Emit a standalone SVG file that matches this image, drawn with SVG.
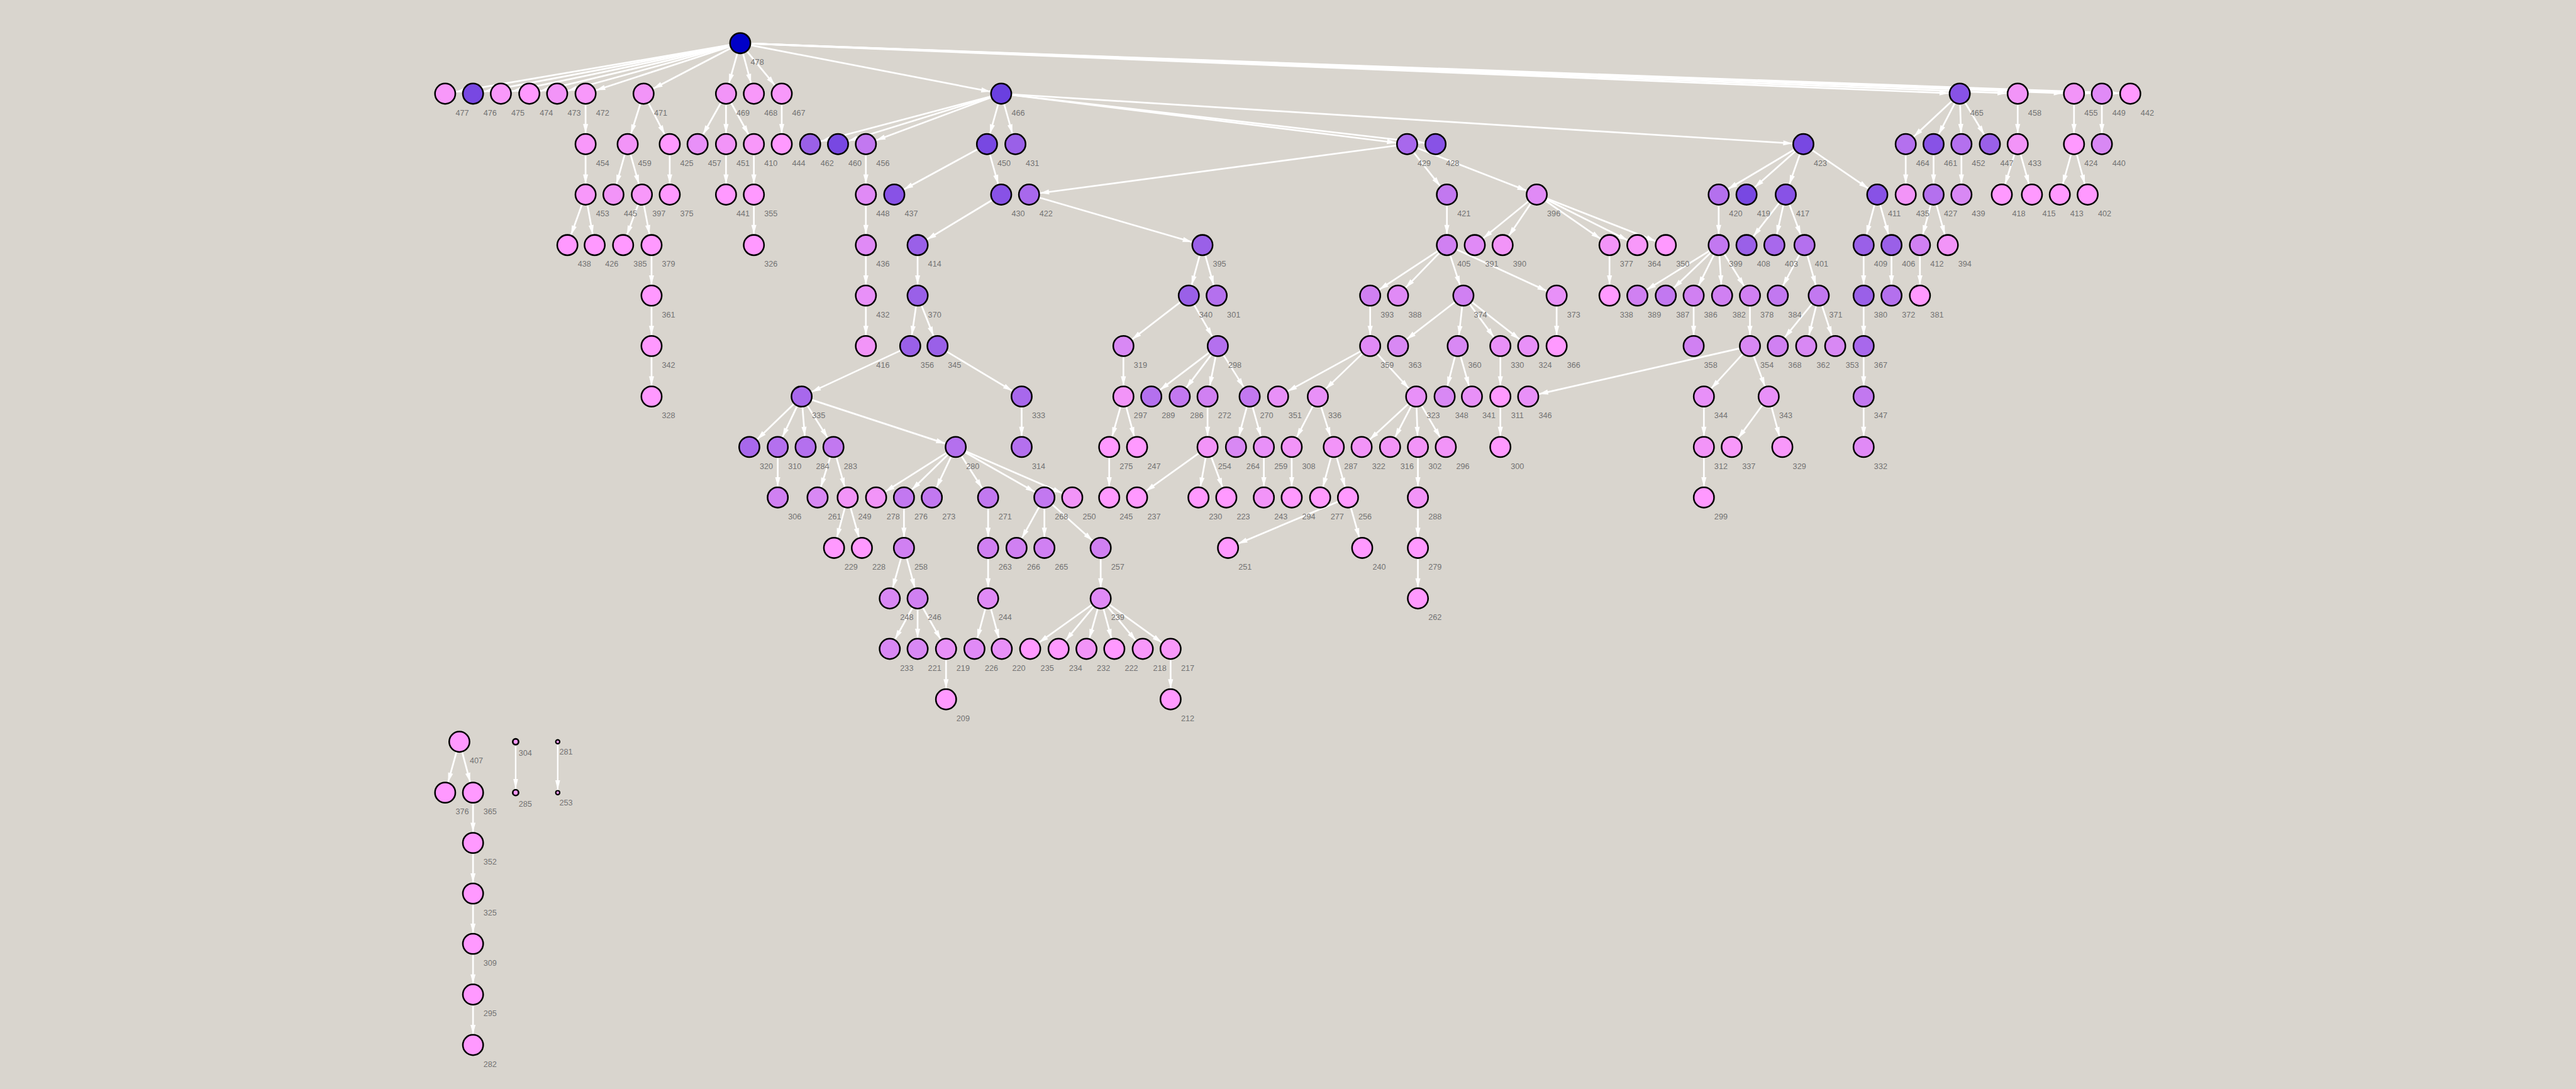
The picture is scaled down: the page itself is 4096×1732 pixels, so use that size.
<svg xmlns="http://www.w3.org/2000/svg" width="4096" height="1732" viewBox="0 0 4096 1732">
<style>
.e line{stroke:#fff;stroke-width:3;marker-end:url(#a)}
.n circle{stroke:#000;stroke-width:2.8}
.n text{font-family:"Liberation Sans",Arial,sans-serif;font-size:14px;fill:#727272;text-anchor:middle}
.c0{fill:#0000c8}.c1{fill:#6a40e0}.c2{fill:#7848e2}.c3{fill:#8852e6}.c4{fill:#9a60e8}.c5{fill:#a868ec}.c6{fill:#b470ee}.c7{fill:#c278f0}.c8{fill:#d080f2}.c9{fill:#d888f4}.c10{fill:#e08af6}.c11{fill:#e890f8}.c12{fill:#f294f8}.c13{fill:#f898fa}.c14{fill:#ff99ff}
</style>
<defs>
<marker id="a" markerUnits="userSpaceOnUse" orient="auto" refX="19.5" refY="0" overflow="visible" markerWidth="20" markerHeight="10"><path d="M0,0 L-16,-4.5 L-16,4.5 Z" fill="#fff"/></marker>
<marker id="a2" markerUnits="userSpaceOnUse" orient="auto" refX="6.8" refY="0" overflow="visible" markerWidth="20" markerHeight="10"><path d="M0,0 L-17,-4.2 L-17,4.2 Z" fill="#fff"/></marker>
<marker id="a3" markerUnits="userSpaceOnUse" orient="auto" refX="4.8" refY="0" overflow="visible" markerWidth="20" markerHeight="10"><path d="M0,0 L-17,-4.2 L-17,4.2 Z" fill="#fff"/></marker>
</defs>
<rect width="4096" height="1732" fill="#d9d5ce"/>
<g transform="scale(0.904)">
<g id="edges" class="e">
<line x1="1302" y1="76" x2="783" y2="164.8"/><line x1="1302" y1="76" x2="832" y2="164.8"/><line x1="1302" y1="76" x2="881" y2="164.8"/><line x1="1302" y1="76" x2="931" y2="164.8"/><line x1="1302" y1="76" x2="980" y2="164.8"/><line x1="1302" y1="76" x2="1030" y2="164.8"/><line x1="1302" y1="76" x2="1132" y2="164.8"/><line x1="1302" y1="76" x2="1277" y2="164.8"/><line x1="1302" y1="76" x2="1326" y2="164.8"/><line x1="1302" y1="76" x2="1375" y2="164.8"/><line x1="1302" y1="76" x2="1761" y2="164.8"/><line x1="1302" y1="76" x2="3447" y2="164.8"/><line x1="1302" y1="76" x2="3549" y2="164.8"/><line x1="1302" y1="76" x2="3648" y2="164.8"/><line x1="1302" y1="76" x2="3697" y2="164.8"/><line x1="1302" y1="76" x2="3747" y2="164.8"/>
<line x1="1761" y1="164.8" x2="1425" y2="253.6"/><line x1="1761" y1="164.8" x2="1474" y2="253.6"/><line x1="1761" y1="164.8" x2="1523" y2="253.6"/><line x1="1761" y1="164.8" x2="1736" y2="253.6"/><line x1="1761" y1="164.8" x2="1786" y2="253.6"/><line x1="1761" y1="164.8" x2="2475" y2="253.6"/><line x1="1761" y1="164.8" x2="2525" y2="253.6"/><line x1="1761" y1="164.8" x2="3172" y2="253.6"/>
<line x1="3447" y1="164.8" x2="3352" y2="253.6"/><line x1="3447" y1="164.8" x2="3401" y2="253.6"/><line x1="3447" y1="164.8" x2="3450" y2="253.6"/><line x1="3447" y1="164.8" x2="3500" y2="253.6"/>
<line x1="3549" y1="164.8" x2="3549" y2="253.6"/><line x1="3648" y1="164.8" x2="3648" y2="253.6"/><line x1="3697" y1="164.8" x2="3697" y2="253.6"/>
<line x1="1030" y1="164.8" x2="1030" y2="253.6"/><line x1="1132" y1="164.8" x2="1104" y2="253.6"/><line x1="1132" y1="164.8" x2="1178" y2="253.6"/><line x1="1277" y1="164.8" x2="1227" y2="253.6"/><line x1="1277" y1="164.8" x2="1277" y2="253.6"/><line x1="1277" y1="164.8" x2="1326" y2="253.6"/><line x1="1375" y1="164.8" x2="1375" y2="253.6"/>
<line x1="1030" y1="253.6" x2="1030" y2="342.4"/><line x1="1104" y1="253.6" x2="1079" y2="342.4"/><line x1="1104" y1="253.6" x2="1129" y2="342.4"/><line x1="1178" y1="253.6" x2="1178" y2="342.4"/><line x1="1277" y1="253.6" x2="1277" y2="342.4"/><line x1="1326" y1="253.6" x2="1326" y2="342.4"/><line x1="1523" y1="253.6" x2="1523" y2="342.4"/><line x1="1736" y1="253.6" x2="1573" y2="342.4"/><line x1="1736" y1="253.6" x2="1761" y2="342.4"/>
<line x1="2475" y1="253.6" x2="1810" y2="342.4"/><line x1="2475" y1="253.6" x2="2545" y2="342.4"/><line x1="2475" y1="253.6" x2="2703" y2="342.4"/>
<line x1="3172" y1="253.6" x2="3023" y2="342.4"/><line x1="3172" y1="253.6" x2="3072" y2="342.4"/><line x1="3172" y1="253.6" x2="3141" y2="342.4"/><line x1="3172" y1="253.6" x2="3302" y2="342.4"/>
<line x1="3352" y1="253.6" x2="3352" y2="342.4"/><line x1="3401" y1="253.6" x2="3401" y2="342.4"/><line x1="3450" y1="253.6" x2="3450" y2="342.4"/><line x1="3549" y1="253.6" x2="3521" y2="342.4"/><line x1="3549" y1="253.6" x2="3574" y2="342.4"/><line x1="3648" y1="253.6" x2="3623" y2="342.4"/><line x1="3648" y1="253.6" x2="3672" y2="342.4"/>
<line x1="1030" y1="342.4" x2="998" y2="431.2"/><line x1="1030" y1="342.4" x2="1046" y2="431.2"/><line x1="1129" y1="342.4" x2="1096" y2="431.2"/><line x1="1129" y1="342.4" x2="1146" y2="431.2"/><line x1="1326" y1="342.4" x2="1326" y2="431.2"/><line x1="1523" y1="342.4" x2="1523" y2="431.2"/><line x1="1761" y1="342.4" x2="1614" y2="431.2"/><line x1="1810" y1="342.4" x2="2115" y2="431.2"/><line x1="2545" y1="342.4" x2="2545" y2="431.2"/>
<line x1="2703" y1="342.4" x2="2594" y2="431.2"/><line x1="2703" y1="342.4" x2="2643" y2="431.2"/><line x1="2703" y1="342.4" x2="2831" y2="431.2"/><line x1="2703" y1="342.4" x2="2880" y2="431.2"/><line x1="2703" y1="342.4" x2="2930" y2="431.2"/>
<line x1="3023" y1="342.4" x2="3023" y2="431.2"/><line x1="3141" y1="342.4" x2="3072" y2="431.2"/><line x1="3141" y1="342.4" x2="3121" y2="431.2"/><line x1="3141" y1="342.4" x2="3174" y2="431.2"/><line x1="3302" y1="342.4" x2="3278" y2="431.2"/><line x1="3302" y1="342.4" x2="3327" y2="431.2"/><line x1="3401" y1="342.4" x2="3377" y2="431.2"/><line x1="3401" y1="342.4" x2="3426" y2="431.2"/>
<line x1="1146" y1="431.2" x2="1146" y2="520"/><line x1="1523" y1="431.2" x2="1523" y2="520"/><line x1="1614" y1="431.2" x2="1614" y2="520"/><line x1="2115" y1="431.2" x2="2091" y2="520"/><line x1="2115" y1="431.2" x2="2140" y2="520"/>
<line x1="2545" y1="431.2" x2="2410" y2="520"/><line x1="2545" y1="431.2" x2="2459" y2="520"/><line x1="2545" y1="431.2" x2="2574" y2="520"/><line x1="2545" y1="431.2" x2="2738" y2="520"/><line x1="2831" y1="431.2" x2="2831" y2="520"/>
<line x1="3023" y1="431.2" x2="2880" y2="520"/><line x1="3023" y1="431.2" x2="2930" y2="520"/><line x1="3023" y1="431.2" x2="2979" y2="520"/><line x1="3023" y1="431.2" x2="3029" y2="520"/><line x1="3023" y1="431.2" x2="3078" y2="520"/>
<line x1="3174" y1="431.2" x2="3127" y2="520"/><line x1="3174" y1="431.2" x2="3199" y2="520"/><line x1="3278" y1="431.2" x2="3278" y2="520"/><line x1="3327" y1="431.2" x2="3327" y2="520"/><line x1="3377" y1="431.2" x2="3377" y2="520"/>
<line x1="1146" y1="520" x2="1146" y2="608.8"/><line x1="1523" y1="520" x2="1523" y2="608.8"/><line x1="1614" y1="520" x2="1601" y2="608.8"/><line x1="1614" y1="520" x2="1649" y2="608.8"/><line x1="2091" y1="520" x2="1976" y2="608.8"/><line x1="2091" y1="520" x2="2142" y2="608.8"/><line x1="2410" y1="520" x2="2410" y2="608.8"/>
<line x1="2574" y1="520" x2="2459" y2="608.8"/><line x1="2574" y1="520" x2="2564" y2="608.8"/><line x1="2574" y1="520" x2="2639" y2="608.8"/><line x1="2574" y1="520" x2="2688" y2="608.8"/><line x1="2738" y1="520" x2="2738" y2="608.8"/><line x1="2979" y1="520" x2="2979" y2="608.8"/><line x1="3078" y1="520" x2="3078" y2="608.8"/>
<line x1="3199" y1="520" x2="3127" y2="608.8"/><line x1="3199" y1="520" x2="3177" y2="608.8"/><line x1="3199" y1="520" x2="3228" y2="608.8"/><line x1="3278" y1="520" x2="3278" y2="608.8"/>
<line x1="1146" y1="608.8" x2="1146" y2="697.6"/><line x1="1601" y1="608.8" x2="1410" y2="697.6"/><line x1="1649" y1="608.8" x2="1797" y2="697.6"/><line x1="1976" y1="608.8" x2="1976" y2="697.6"/>
<line x1="2142" y1="608.8" x2="2025" y2="697.6"/><line x1="2142" y1="608.8" x2="2075" y2="697.6"/><line x1="2142" y1="608.8" x2="2124" y2="697.6"/><line x1="2142" y1="608.8" x2="2198" y2="697.6"/>
<line x1="2410" y1="608.8" x2="2248" y2="697.6"/><line x1="2410" y1="608.8" x2="2318" y2="697.6"/><line x1="2410" y1="608.8" x2="2491" y2="697.6"/><line x1="2564" y1="608.8" x2="2541" y2="697.6"/><line x1="2564" y1="608.8" x2="2589" y2="697.6"/><line x1="2639" y1="608.8" x2="2639" y2="697.6"/>
<line x1="3078" y1="608.8" x2="2688" y2="697.6"/><line x1="3078" y1="608.8" x2="2997" y2="697.6"/><line x1="3078" y1="608.8" x2="3111" y2="697.6"/><line x1="3278" y1="608.8" x2="3278" y2="697.6"/>
<line x1="1410" y1="697.6" x2="1318" y2="786.4"/><line x1="1410" y1="697.6" x2="1368" y2="786.4"/><line x1="1410" y1="697.6" x2="1417" y2="786.4"/><line x1="1410" y1="697.6" x2="1466" y2="786.4"/><line x1="1410" y1="697.6" x2="1681" y2="786.4"/><line x1="1797" y1="697.6" x2="1797" y2="786.4"/>
<line x1="1976" y1="697.6" x2="1951" y2="786.4"/><line x1="1976" y1="697.6" x2="2000" y2="786.4"/><line x1="2124" y1="697.6" x2="2124" y2="786.4"/><line x1="2198" y1="697.6" x2="2174" y2="786.4"/><line x1="2198" y1="697.6" x2="2223" y2="786.4"/>
<line x1="2318" y1="697.6" x2="2272" y2="786.4"/><line x1="2318" y1="697.6" x2="2346" y2="786.4"/><line x1="2491" y1="697.6" x2="2395" y2="786.4"/><line x1="2491" y1="697.6" x2="2445" y2="786.4"/><line x1="2491" y1="697.6" x2="2494" y2="786.4"/><line x1="2491" y1="697.6" x2="2543" y2="786.4"/>
<line x1="2639" y1="697.6" x2="2639" y2="786.4"/><line x1="2997" y1="697.6" x2="2997" y2="786.4"/><line x1="3111" y1="697.6" x2="3046" y2="786.4"/><line x1="3111" y1="697.6" x2="3135" y2="786.4"/><line x1="3278" y1="697.6" x2="3278" y2="786.4"/>
<line x1="1368" y1="786.4" x2="1368" y2="875.2"/><line x1="1466" y1="786.4" x2="1438" y2="875.2"/><line x1="1466" y1="786.4" x2="1491" y2="875.2"/>
<line x1="1681" y1="786.4" x2="1541" y2="875.2"/><line x1="1681" y1="786.4" x2="1590" y2="875.2"/><line x1="1681" y1="786.4" x2="1639" y2="875.2"/><line x1="1681" y1="786.4" x2="1738" y2="875.2"/><line x1="1681" y1="786.4" x2="1837" y2="875.2"/><line x1="1681" y1="786.4" x2="1886" y2="875.2"/>
<line x1="1951" y1="786.4" x2="1951" y2="875.2"/><line x1="2124" y1="786.4" x2="2000" y2="875.2"/><line x1="2124" y1="786.4" x2="2108" y2="875.2"/><line x1="2124" y1="786.4" x2="2157" y2="875.2"/><line x1="2223" y1="786.4" x2="2223" y2="875.2"/><line x1="2272" y1="786.4" x2="2272" y2="875.2"/>
<line x1="2346" y1="786.4" x2="2322" y2="875.2"/><line x1="2346" y1="786.4" x2="2371" y2="875.2"/><line x1="2494" y1="786.4" x2="2494" y2="875.2"/><line x1="2997" y1="786.4" x2="2997" y2="875.2"/>
<line x1="1491" y1="875.2" x2="1467" y2="964"/><line x1="1491" y1="875.2" x2="1516" y2="964"/><line x1="1590" y1="875.2" x2="1590" y2="964"/><line x1="1738" y1="875.2" x2="1738" y2="964"/><line x1="1837" y1="875.2" x2="1788" y2="964"/><line x1="1837" y1="875.2" x2="1837" y2="964"/><line x1="1837" y1="875.2" x2="1936" y2="964"/>
<line x1="2371" y1="875.2" x2="2160" y2="964"/><line x1="2371" y1="875.2" x2="2396" y2="964"/><line x1="2494" y1="875.2" x2="2494" y2="964"/>
<line x1="1590" y1="964" x2="1565" y2="1052.8"/><line x1="1590" y1="964" x2="1614" y2="1052.8"/><line x1="1738" y1="964" x2="1738" y2="1052.8"/><line x1="1936" y1="964" x2="1936" y2="1052.8"/><line x1="2494" y1="964" x2="2494" y2="1052.8"/>
<line x1="1614" y1="1052.8" x2="1565" y2="1141.6"/><line x1="1614" y1="1052.8" x2="1614" y2="1141.6"/><line x1="1614" y1="1052.8" x2="1664" y2="1141.6"/><line x1="1738" y1="1052.8" x2="1714" y2="1141.6"/><line x1="1738" y1="1052.8" x2="1762" y2="1141.6"/>
<line x1="1936" y1="1052.8" x2="1812" y2="1141.6"/><line x1="1936" y1="1052.8" x2="1862" y2="1141.6"/><line x1="1936" y1="1052.8" x2="1911" y2="1141.6"/><line x1="1936" y1="1052.8" x2="1960" y2="1141.6"/><line x1="1936" y1="1052.8" x2="2010" y2="1141.6"/><line x1="1936" y1="1052.8" x2="2059" y2="1141.6"/>
<line x1="1664" y1="1141.6" x2="1664" y2="1230.4"/><line x1="2059" y1="1141.6" x2="2059" y2="1230.4"/>
<line x1="808" y1="1305" x2="783" y2="1394.5"/><line x1="808" y1="1305" x2="832" y2="1394.5"/><line x1="832" y1="1394.5" x2="832" y2="1483"/><line x1="832" y1="1483" x2="832" y2="1572"/><line x1="832" y1="1572" x2="832" y2="1660.5"/><line x1="832" y1="1660.5" x2="832" y2="1749.7"/><line x1="832" y1="1749.7" x2="832" y2="1838.5"/>
<line x1="907" y1="1305" x2="907" y2="1394.5" style="marker-end:url(#a2);stroke-width:2.6"/><line x1="981" y1="1305" x2="981" y2="1394.5" style="marker-end:url(#a3);stroke-width:2.6"/>
</g>
<g id="n478" class="n" transform="translate(1302,76)"><circle r="17.9" class="c0"/><text x="30" y="38.3">478</text></g>
<g id="n477" class="n" transform="translate(783,164.8)"><circle r="17.9" class="c13"/><text x="30" y="38.3">477</text></g>
<g id="n476" class="n" transform="translate(832,164.8)"><circle r="17.9" class="c2"/><text x="30" y="38.3">476</text></g>
<g id="n475" class="n" transform="translate(881,164.8)"><circle r="17.9" class="c13"/><text x="30" y="38.3">475</text></g>
<g id="n474" class="n" transform="translate(931,164.8)"><circle r="17.9" class="c14"/><text x="30" y="38.3">474</text></g>
<g id="n473" class="n" transform="translate(980,164.8)"><circle r="17.9" class="c12"/><text x="30" y="38.3">473</text></g>
<g id="n472" class="n" transform="translate(1030,164.8)"><circle r="17.9" class="c13"/><text x="30" y="38.3">472</text></g>
<g id="n471" class="n" transform="translate(1132,164.8)"><circle r="17.9" class="c12"/><text x="30" y="38.3">471</text></g>
<g id="n469" class="n" transform="translate(1277,164.8)"><circle r="17.9" class="c12"/><text x="30" y="38.3">469</text></g>
<g id="n468" class="n" transform="translate(1326,164.8)"><circle r="17.9" class="c13"/><text x="30" y="38.3">468</text></g>
<g id="n467" class="n" transform="translate(1375,164.8)"><circle r="17.9" class="c13"/><text x="30" y="38.3">467</text></g>
<g id="n466" class="n" transform="translate(1761,164.8)"><circle r="17.9" class="c1"/><text x="30" y="38.3">466</text></g>
<g id="n465" class="n" transform="translate(3447,164.8)"><circle r="17.9" class="c3"/><text x="30" y="38.3">465</text></g>
<g id="n458" class="n" transform="translate(3549,164.8)"><circle r="17.9" class="c12"/><text x="30" y="38.3">458</text></g>
<g id="n455" class="n" transform="translate(3648,164.8)"><circle r="17.9" class="c12"/><text x="30" y="38.3">455</text></g>
<g id="n449" class="n" transform="translate(3697,164.8)"><circle r="17.9" class="c10"/><text x="30" y="38.3">449</text></g>
<g id="n442" class="n" transform="translate(3747,164.8)"><circle r="17.9" class="c14"/><text x="30" y="38.3">442</text></g>
<g id="n454" class="n" transform="translate(1030,253.6)"><circle r="17.9" class="c13"/><text x="30" y="38.3">454</text></g>
<g id="n459" class="n" transform="translate(1104,253.6)"><circle r="17.9" class="c12"/><text x="30" y="38.3">459</text></g>
<g id="n425" class="n" transform="translate(1178,253.6)"><circle r="17.9" class="c14"/><text x="30" y="38.3">425</text></g>
<g id="n457" class="n" transform="translate(1227,253.6)"><circle r="17.9" class="c11"/><text x="30" y="38.3">457</text></g>
<g id="n451" class="n" transform="translate(1277,253.6)"><circle r="17.9" class="c12"/><text x="30" y="38.3">451</text></g>
<g id="n410" class="n" transform="translate(1326,253.6)"><circle r="17.9" class="c13"/><text x="30" y="38.3">410</text></g>
<g id="n444" class="n" transform="translate(1375,253.6)"><circle r="17.9" class="c14"/><text x="30" y="38.3">444</text></g>
<g id="n462" class="n" transform="translate(1425,253.6)"><circle r="17.9" class="c4"/><text x="30" y="38.3">462</text></g>
<g id="n460" class="n" transform="translate(1474,253.6)"><circle r="17.9" class="c2"/><text x="30" y="38.3">460</text></g>
<g id="n456" class="n" transform="translate(1523,253.6)"><circle r="17.9" class="c7"/><text x="30" y="38.3">456</text></g>
<g id="n450" class="n" transform="translate(1736,253.6)"><circle r="17.9" class="c2"/><text x="30" y="38.3">450</text></g>
<g id="n431" class="n" transform="translate(1786,253.6)"><circle r="17.9" class="c4"/><text x="30" y="38.3">431</text></g>
<g id="n429" class="n" transform="translate(2475,253.6)"><circle r="17.9" class="c5"/><text x="30" y="38.3">429</text></g>
<g id="n428" class="n" transform="translate(2525,253.6)"><circle r="17.9" class="c3"/><text x="30" y="38.3">428</text></g>
<g id="n423" class="n" transform="translate(3172,253.6)"><circle r="17.9" class="c2"/><text x="30" y="38.3">423</text></g>
<g id="n464" class="n" transform="translate(3352,253.6)"><circle r="17.9" class="c6"/><text x="30" y="38.3">464</text></g>
<g id="n461" class="n" transform="translate(3401,253.6)"><circle r="17.9" class="c3"/><text x="30" y="38.3">461</text></g>
<g id="n452" class="n" transform="translate(3450,253.6)"><circle r="17.9" class="c6"/><text x="30" y="38.3">452</text></g>
<g id="n447" class="n" transform="translate(3500,253.6)"><circle r="17.9" class="c4"/><text x="30" y="38.3">447</text></g>
<g id="n433" class="n" transform="translate(3549,253.6)"><circle r="17.9" class="c12"/><text x="30" y="38.3">433</text></g>
<g id="n424" class="n" transform="translate(3648,253.6)"><circle r="17.9" class="c14"/><text x="30" y="38.3">424</text></g>
<g id="n440" class="n" transform="translate(3697,253.6)"><circle r="17.9" class="c9"/><text x="30" y="38.3">440</text></g>
<g id="n453" class="n" transform="translate(1030,342.4)"><circle r="17.9" class="c13"/><text x="30" y="38.3">453</text></g>
<g id="n445" class="n" transform="translate(1079,342.4)"><circle r="17.9" class="c12"/><text x="30" y="38.3">445</text></g>
<g id="n397" class="n" transform="translate(1129,342.4)"><circle r="17.9" class="c13"/><text x="30" y="38.3">397</text></g>
<g id="n375" class="n" transform="translate(1178,342.4)"><circle r="17.9" class="c14"/><text x="30" y="38.3">375</text></g>
<g id="n441" class="n" transform="translate(1277,342.4)"><circle r="17.9" class="c14"/><text x="30" y="38.3">441</text></g>
<g id="n355" class="n" transform="translate(1326,342.4)"><circle r="17.9" class="c14"/><text x="30" y="38.3">355</text></g>
<g id="n448" class="n" transform="translate(1523,342.4)"><circle r="17.9" class="c10"/><text x="30" y="38.3">448</text></g>
<g id="n437" class="n" transform="translate(1573,342.4)"><circle r="17.9" class="c3"/><text x="30" y="38.3">437</text></g>
<g id="n430" class="n" transform="translate(1761,342.4)"><circle r="17.9" class="c3"/><text x="30" y="38.3">430</text></g>
<g id="n422" class="n" transform="translate(1810,342.4)"><circle r="17.9" class="c5"/><text x="30" y="38.3">422</text></g>
<g id="n421" class="n" transform="translate(2545,342.4)"><circle r="17.9" class="c7"/><text x="30" y="38.3">421</text></g>
<g id="n396" class="n" transform="translate(2703,342.4)"><circle r="17.9" class="c10"/><text x="30" y="38.3">396</text></g>
<g id="n420" class="n" transform="translate(3023,342.4)"><circle r="17.9" class="c6"/><text x="30" y="38.3">420</text></g>
<g id="n419" class="n" transform="translate(3072,342.4)"><circle r="17.9" class="c2"/><text x="30" y="38.3">419</text></g>
<g id="n417" class="n" transform="translate(3141,342.4)"><circle r="17.9" class="c3"/><text x="30" y="38.3">417</text></g>
<g id="n411" class="n" transform="translate(3302,342.4)"><circle r="17.9" class="c3"/><text x="30" y="38.3">411</text></g>
<g id="n435" class="n" transform="translate(3352,342.4)"><circle r="17.9" class="c12"/><text x="30" y="38.3">435</text></g>
<g id="n427" class="n" transform="translate(3401,342.4)"><circle r="17.9" class="c6"/><text x="30" y="38.3">427</text></g>
<g id="n439" class="n" transform="translate(3450,342.4)"><circle r="17.9" class="c9"/><text x="30" y="38.3">439</text></g>
<g id="n418" class="n" transform="translate(3521,342.4)"><circle r="17.9" class="c14"/><text x="30" y="38.3">418</text></g>
<g id="n415" class="n" transform="translate(3574,342.4)"><circle r="17.9" class="c14"/><text x="30" y="38.3">415</text></g>
<g id="n413" class="n" transform="translate(3623,342.4)"><circle r="17.9" class="c14"/><text x="30" y="38.3">413</text></g>
<g id="n402" class="n" transform="translate(3672,342.4)"><circle r="17.9" class="c14"/><text x="30" y="38.3">402</text></g>
<g id="n438" class="n" transform="translate(998,431.2)"><circle r="17.9" class="c14"/><text x="30" y="38.3">438</text></g>
<g id="n426" class="n" transform="translate(1046,431.2)"><circle r="17.9" class="c14"/><text x="30" y="38.3">426</text></g>
<g id="n385" class="n" transform="translate(1096,431.2)"><circle r="17.9" class="c14"/><text x="30" y="38.3">385</text></g>
<g id="n379" class="n" transform="translate(1146,431.2)"><circle r="17.9" class="c14"/><text x="30" y="38.3">379</text></g>
<g id="n326" class="n" transform="translate(1326,431.2)"><circle r="17.9" class="c14"/><text x="30" y="38.3">326</text></g>
<g id="n436" class="n" transform="translate(1523,431.2)"><circle r="17.9" class="c10"/><text x="30" y="38.3">436</text></g>
<g id="n414" class="n" transform="translate(1614,431.2)"><circle r="17.9" class="c4"/><text x="30" y="38.3">414</text></g>
<g id="n395" class="n" transform="translate(2115,431.2)"><circle r="17.9" class="c4"/><text x="30" y="38.3">395</text></g>
<g id="n405" class="n" transform="translate(2545,431.2)"><circle r="17.9" class="c8"/><text x="30" y="38.3">405</text></g>
<g id="n391" class="n" transform="translate(2594,431.2)"><circle r="17.9" class="c10"/><text x="30" y="38.3">391</text></g>
<g id="n390" class="n" transform="translate(2643,431.2)"><circle r="17.9" class="c12"/><text x="30" y="38.3">390</text></g>
<g id="n377" class="n" transform="translate(2831,431.2)"><circle r="17.9" class="c12"/><text x="30" y="38.3">377</text></g>
<g id="n364" class="n" transform="translate(2880,431.2)"><circle r="17.9" class="c13"/><text x="30" y="38.3">364</text></g>
<g id="n350" class="n" transform="translate(2930,431.2)"><circle r="17.9" class="c14"/><text x="30" y="38.3">350</text></g>
<g id="n399" class="n" transform="translate(3023,431.2)"><circle r="17.9" class="c7"/><text x="30" y="38.3">399</text></g>
<g id="n408" class="n" transform="translate(3072,431.2)"><circle r="17.9" class="c4"/><text x="30" y="38.3">408</text></g>
<g id="n403" class="n" transform="translate(3121,431.2)"><circle r="17.9" class="c5"/><text x="30" y="38.3">403</text></g>
<g id="n401" class="n" transform="translate(3174,431.2)"><circle r="17.9" class="c6"/><text x="30" y="38.3">401</text></g>
<g id="n409" class="n" transform="translate(3278,431.2)"><circle r="17.9" class="c4"/><text x="30" y="38.3">409</text></g>
<g id="n406" class="n" transform="translate(3327,431.2)"><circle r="17.9" class="c4"/><text x="30" y="38.3">406</text></g>
<g id="n412" class="n" transform="translate(3377,431.2)"><circle r="17.9" class="c8"/><text x="30" y="38.3">412</text></g>
<g id="n394" class="n" transform="translate(3426,431.2)"><circle r="17.9" class="c12"/><text x="30" y="38.3">394</text></g>
<g id="n361" class="n" transform="translate(1146,520)"><circle r="17.9" class="c14"/><text x="30" y="38.3">361</text></g>
<g id="n432" class="n" transform="translate(1523,520)"><circle r="17.9" class="c11"/><text x="30" y="38.3">432</text></g>
<g id="n370" class="n" transform="translate(1614,520)"><circle r="17.9" class="c4"/><text x="30" y="38.3">370</text></g>
<g id="n340" class="n" transform="translate(2091,520)"><circle r="17.9" class="c4"/><text x="30" y="38.3">340</text></g>
<g id="n301" class="n" transform="translate(2140,520)"><circle r="17.9" class="c6"/><text x="30" y="38.3">301</text></g>
<g id="n393" class="n" transform="translate(2410,520)"><circle r="17.9" class="c8"/><text x="30" y="38.3">393</text></g>
<g id="n388" class="n" transform="translate(2459,520)"><circle r="17.9" class="c10"/><text x="30" y="38.3">388</text></g>
<g id="n374" class="n" transform="translate(2574,520)"><circle r="17.9" class="c8"/><text x="30" y="38.3">374</text></g>
<g id="n373" class="n" transform="translate(2738,520)"><circle r="17.9" class="c11"/><text x="30" y="38.3">373</text></g>
<g id="n338" class="n" transform="translate(2831,520)"><circle r="17.9" class="c14"/><text x="30" y="38.3">338</text></g>
<g id="n389" class="n" transform="translate(2880,520)"><circle r="17.9" class="c8"/><text x="30" y="38.3">389</text></g>
<g id="n387" class="n" transform="translate(2930,520)"><circle r="17.9" class="c7"/><text x="30" y="38.3">387</text></g>
<g id="n386" class="n" transform="translate(2979,520)"><circle r="17.9" class="c8"/><text x="30" y="38.3">386</text></g>
<g id="n382" class="n" transform="translate(3029,520)"><circle r="17.9" class="c8"/><text x="30" y="38.3">382</text></g>
<g id="n378" class="n" transform="translate(3078,520)"><circle r="17.9" class="c8"/><text x="30" y="38.3">378</text></g>
<g id="n384" class="n" transform="translate(3127,520)"><circle r="17.9" class="c7"/><text x="30" y="38.3">384</text></g>
<g id="n371" class="n" transform="translate(3199,520)"><circle r="17.9" class="c7"/><text x="30" y="38.3">371</text></g>
<g id="n380" class="n" transform="translate(3278,520)"><circle r="17.9" class="c4"/><text x="30" y="38.3">380</text></g>
<g id="n372" class="n" transform="translate(3327,520)"><circle r="17.9" class="c6"/><text x="30" y="38.3">372</text></g>
<g id="n381" class="n" transform="translate(3377,520)"><circle r="17.9" class="c14"/><text x="30" y="38.3">381</text></g>
<g id="n342" class="n" transform="translate(1146,608.8)"><circle r="17.9" class="c14"/><text x="30" y="38.3">342</text></g>
<g id="n416" class="n" transform="translate(1523,608.8)"><circle r="17.9" class="c12"/><text x="30" y="38.3">416</text></g>
<g id="n356" class="n" transform="translate(1601,608.8)"><circle r="17.9" class="c4"/><text x="30" y="38.3">356</text></g>
<g id="n345" class="n" transform="translate(1649,608.8)"><circle r="17.9" class="c4"/><text x="30" y="38.3">345</text></g>
<g id="n319" class="n" transform="translate(1976,608.8)"><circle r="17.9" class="c9"/><text x="30" y="38.3">319</text></g>
<g id="n298" class="n" transform="translate(2142,608.8)"><circle r="17.9" class="c6"/><text x="30" y="38.3">298</text></g>
<g id="n359" class="n" transform="translate(2410,608.8)"><circle r="17.9" class="c10"/><text x="30" y="38.3">359</text></g>
<g id="n363" class="n" transform="translate(2459,608.8)"><circle r="17.9" class="c9"/><text x="30" y="38.3">363</text></g>
<g id="n360" class="n" transform="translate(2564,608.8)"><circle r="17.9" class="c9"/><text x="30" y="38.3">360</text></g>
<g id="n330" class="n" transform="translate(2639,608.8)"><circle r="17.9" class="c11"/><text x="30" y="38.3">330</text></g>
<g id="n324" class="n" transform="translate(2688,608.8)"><circle r="17.9" class="c11"/><text x="30" y="38.3">324</text></g>
<g id="n366" class="n" transform="translate(2738,608.8)"><circle r="17.9" class="c14"/><text x="30" y="38.3">366</text></g>
<g id="n358" class="n" transform="translate(2979,608.8)"><circle r="17.9" class="c8"/><text x="30" y="38.3">358</text></g>
<g id="n354" class="n" transform="translate(3078,608.8)"><circle r="17.9" class="c9"/><text x="30" y="38.3">354</text></g>
<g id="n368" class="n" transform="translate(3127,608.8)"><circle r="17.9" class="c8"/><text x="30" y="38.3">368</text></g>
<g id="n362" class="n" transform="translate(3177,608.8)"><circle r="17.9" class="c9"/><text x="30" y="38.3">362</text></g>
<g id="n353" class="n" transform="translate(3228,608.8)"><circle r="17.9" class="c9"/><text x="30" y="38.3">353</text></g>
<g id="n367" class="n" transform="translate(3278,608.8)"><circle r="17.9" class="c5"/><text x="30" y="38.3">367</text></g>
<g id="n328" class="n" transform="translate(1146,697.6)"><circle r="17.9" class="c14"/><text x="30" y="38.3">328</text></g>
<g id="n335" class="n" transform="translate(1410,697.6)"><circle r="17.9" class="c5"/><text x="30" y="38.3">335</text></g>
<g id="n333" class="n" transform="translate(1797,697.6)"><circle r="17.9" class="c5"/><text x="30" y="38.3">333</text></g>
<g id="n297" class="n" transform="translate(1976,697.6)"><circle r="17.9" class="c12"/><text x="30" y="38.3">297</text></g>
<g id="n289" class="n" transform="translate(2025,697.6)"><circle r="17.9" class="c6"/><text x="30" y="38.3">289</text></g>
<g id="n286" class="n" transform="translate(2075,697.6)"><circle r="17.9" class="c7"/><text x="30" y="38.3">286</text></g>
<g id="n272" class="n" transform="translate(2124,697.6)"><circle r="17.9" class="c8"/><text x="30" y="38.3">272</text></g>
<g id="n270" class="n" transform="translate(2198,697.6)"><circle r="17.9" class="c7"/><text x="30" y="38.3">270</text></g>
<g id="n351" class="n" transform="translate(2248,697.6)"><circle r="17.9" class="c11"/><text x="30" y="38.3">351</text></g>
<g id="n336" class="n" transform="translate(2318,697.6)"><circle r="17.9" class="c11"/><text x="30" y="38.3">336</text></g>
<g id="n323" class="n" transform="translate(2491,697.6)"><circle r="17.9" class="c11"/><text x="30" y="38.3">323</text></g>
<g id="n348" class="n" transform="translate(2541,697.6)"><circle r="17.9" class="c9"/><text x="30" y="38.3">348</text></g>
<g id="n341" class="n" transform="translate(2589,697.6)"><circle r="17.9" class="c11"/><text x="30" y="38.3">341</text></g>
<g id="n311" class="n" transform="translate(2639,697.6)"><circle r="17.9" class="c14"/><text x="30" y="38.3">311</text></g>
<g id="n346" class="n" transform="translate(2688,697.6)"><circle r="17.9" class="c11"/><text x="30" y="38.3">346</text></g>
<g id="n344" class="n" transform="translate(2997,697.6)"><circle r="17.9" class="c11"/><text x="30" y="38.3">344</text></g>
<g id="n343" class="n" transform="translate(3111,697.6)"><circle r="17.9" class="c11"/><text x="30" y="38.3">343</text></g>
<g id="n347" class="n" transform="translate(3278,697.6)"><circle r="17.9" class="c7"/><text x="30" y="38.3">347</text></g>
<g id="n320" class="n" transform="translate(1318,786.4)"><circle r="17.9" class="c5"/><text x="30" y="38.3">320</text></g>
<g id="n310" class="n" transform="translate(1368,786.4)"><circle r="17.9" class="c6"/><text x="30" y="38.3">310</text></g>
<g id="n284" class="n" transform="translate(1417,786.4)"><circle r="17.9" class="c6"/><text x="30" y="38.3">284</text></g>
<g id="n283" class="n" transform="translate(1466,786.4)"><circle r="17.9" class="c7"/><text x="30" y="38.3">283</text></g>
<g id="n280" class="n" transform="translate(1681,786.4)"><circle r="17.9" class="c6"/><text x="30" y="38.3">280</text></g>
<g id="n314" class="n" transform="translate(1797,786.4)"><circle r="17.9" class="c6"/><text x="30" y="38.3">314</text></g>
<g id="n275" class="n" transform="translate(1951,786.4)"><circle r="17.9" class="c14"/><text x="30" y="38.3">275</text></g>
<g id="n247" class="n" transform="translate(2000,786.4)"><circle r="17.9" class="c14"/><text x="30" y="38.3">247</text></g>
<g id="n254" class="n" transform="translate(2124,786.4)"><circle r="17.9" class="c12"/><text x="30" y="38.3">254</text></g>
<g id="n264" class="n" transform="translate(2174,786.4)"><circle r="17.9" class="c9"/><text x="30" y="38.3">264</text></g>
<g id="n259" class="n" transform="translate(2223,786.4)"><circle r="17.9" class="c11"/><text x="30" y="38.3">259</text></g>
<g id="n308" class="n" transform="translate(2272,786.4)"><circle r="17.9" class="c12"/><text x="30" y="38.3">308</text></g>
<g id="n287" class="n" transform="translate(2346,786.4)"><circle r="17.9" class="c12"/><text x="30" y="38.3">287</text></g>
<g id="n322" class="n" transform="translate(2395,786.4)"><circle r="17.9" class="c12"/><text x="30" y="38.3">322</text></g>
<g id="n316" class="n" transform="translate(2445,786.4)"><circle r="17.9" class="c12"/><text x="30" y="38.3">316</text></g>
<g id="n302" class="n" transform="translate(2494,786.4)"><circle r="17.9" class="c12"/><text x="30" y="38.3">302</text></g>
<g id="n296" class="n" transform="translate(2543,786.4)"><circle r="17.9" class="c12"/><text x="30" y="38.3">296</text></g>
<g id="n300" class="n" transform="translate(2639,786.4)"><circle r="17.9" class="c14"/><text x="30" y="38.3">300</text></g>
<g id="n312" class="n" transform="translate(2997,786.4)"><circle r="17.9" class="c12"/><text x="30" y="38.3">312</text></g>
<g id="n337" class="n" transform="translate(3046,786.4)"><circle r="17.9" class="c13"/><text x="30" y="38.3">337</text></g>
<g id="n329" class="n" transform="translate(3135,786.4)"><circle r="17.9" class="c13"/><text x="30" y="38.3">329</text></g>
<g id="n332" class="n" transform="translate(3278,786.4)"><circle r="17.9" class="c10"/><text x="30" y="38.3">332</text></g>
<g id="n306" class="n" transform="translate(1368,875.2)"><circle r="17.9" class="c8"/><text x="30" y="38.3">306</text></g>
<g id="n261" class="n" transform="translate(1438,875.2)"><circle r="17.9" class="c9"/><text x="30" y="38.3">261</text></g>
<g id="n249" class="n" transform="translate(1491,875.2)"><circle r="17.9" class="c12"/><text x="30" y="38.3">249</text></g>
<g id="n278" class="n" transform="translate(1541,875.2)"><circle r="17.9" class="c12"/><text x="30" y="38.3">278</text></g>
<g id="n276" class="n" transform="translate(1590,875.2)"><circle r="17.9" class="c7"/><text x="30" y="38.3">276</text></g>
<g id="n273" class="n" transform="translate(1639,875.2)"><circle r="17.9" class="c7"/><text x="30" y="38.3">273</text></g>
<g id="n271" class="n" transform="translate(1738,875.2)"><circle r="17.9" class="c7"/><text x="30" y="38.3">271</text></g>
<g id="n268" class="n" transform="translate(1837,875.2)"><circle r="17.9" class="c7"/><text x="30" y="38.3">268</text></g>
<g id="n250" class="n" transform="translate(1886,875.2)"><circle r="17.9" class="c12"/><text x="30" y="38.3">250</text></g>
<g id="n245" class="n" transform="translate(1951,875.2)"><circle r="17.9" class="c14"/><text x="30" y="38.3">245</text></g>
<g id="n237" class="n" transform="translate(2000,875.2)"><circle r="17.9" class="c14"/><text x="30" y="38.3">237</text></g>
<g id="n230" class="n" transform="translate(2108,875.2)"><circle r="17.9" class="c14"/><text x="30" y="38.3">230</text></g>
<g id="n223" class="n" transform="translate(2157,875.2)"><circle r="17.9" class="c14"/><text x="30" y="38.3">223</text></g>
<g id="n243" class="n" transform="translate(2223,875.2)"><circle r="17.9" class="c12"/><text x="30" y="38.3">243</text></g>
<g id="n294" class="n" transform="translate(2272,875.2)"><circle r="17.9" class="c14"/><text x="30" y="38.3">294</text></g>
<g id="n277" class="n" transform="translate(2322,875.2)"><circle r="17.9" class="c14"/><text x="30" y="38.3">277</text></g>
<g id="n256" class="n" transform="translate(2371,875.2)"><circle r="17.9" class="c14"/><text x="30" y="38.3">256</text></g>
<g id="n288" class="n" transform="translate(2494,875.2)"><circle r="17.9" class="c12"/><text x="30" y="38.3">288</text></g>
<g id="n299" class="n" transform="translate(2997,875.2)"><circle r="17.9" class="c14"/><text x="30" y="38.3">299</text></g>
<g id="n229" class="n" transform="translate(1467,964)"><circle r="17.9" class="c14"/><text x="30" y="38.3">229</text></g>
<g id="n228" class="n" transform="translate(1516,964)"><circle r="17.9" class="c14"/><text x="30" y="38.3">228</text></g>
<g id="n258" class="n" transform="translate(1590,964)"><circle r="17.9" class="c8"/><text x="30" y="38.3">258</text></g>
<g id="n263" class="n" transform="translate(1738,964)"><circle r="17.9" class="c8"/><text x="30" y="38.3">263</text></g>
<g id="n266" class="n" transform="translate(1788,964)"><circle r="17.9" class="c8"/><text x="30" y="38.3">266</text></g>
<g id="n265" class="n" transform="translate(1837,964)"><circle r="17.9" class="c8"/><text x="30" y="38.3">265</text></g>
<g id="n257" class="n" transform="translate(1936,964)"><circle r="17.9" class="c8"/><text x="30" y="38.3">257</text></g>
<g id="n251" class="n" transform="translate(2160,964)"><circle r="17.9" class="c14"/><text x="30" y="38.3">251</text></g>
<g id="n240" class="n" transform="translate(2396,964)"><circle r="17.9" class="c14"/><text x="30" y="38.3">240</text></g>
<g id="n279" class="n" transform="translate(2494,964)"><circle r="17.9" class="c14"/><text x="30" y="38.3">279</text></g>
<g id="n248" class="n" transform="translate(1565,1052.8)"><circle r="17.9" class="c9"/><text x="30" y="38.3">248</text></g>
<g id="n246" class="n" transform="translate(1614,1052.8)"><circle r="17.9" class="c8"/><text x="30" y="38.3">246</text></g>
<g id="n244" class="n" transform="translate(1738,1052.8)"><circle r="17.9" class="c10"/><text x="30" y="38.3">244</text></g>
<g id="n239" class="n" transform="translate(1936,1052.8)"><circle r="17.9" class="c10"/><text x="30" y="38.3">239</text></g>
<g id="n262" class="n" transform="translate(2494,1052.8)"><circle r="17.9" class="c14"/><text x="30" y="38.3">262</text></g>
<g id="n233" class="n" transform="translate(1565,1141.6)"><circle r="17.9" class="c9"/><text x="30" y="38.3">233</text></g>
<g id="n221" class="n" transform="translate(1614,1141.6)"><circle r="17.9" class="c9"/><text x="30" y="38.3">221</text></g>
<g id="n219" class="n" transform="translate(1664,1141.6)"><circle r="17.9" class="c11"/><text x="30" y="38.3">219</text></g>
<g id="n226" class="n" transform="translate(1714,1141.6)"><circle r="17.9" class="c10"/><text x="30" y="38.3">226</text></g>
<g id="n220" class="n" transform="translate(1762,1141.6)"><circle r="17.9" class="c11"/><text x="30" y="38.3">220</text></g>
<g id="n235" class="n" transform="translate(1812,1141.6)"><circle r="17.9" class="c14"/><text x="30" y="38.3">235</text></g>
<g id="n234" class="n" transform="translate(1862,1141.6)"><circle r="17.9" class="c14"/><text x="30" y="38.3">234</text></g>
<g id="n232" class="n" transform="translate(1911,1141.6)"><circle r="17.9" class="c12"/><text x="30" y="38.3">232</text></g>
<g id="n222" class="n" transform="translate(1960,1141.6)"><circle r="17.9" class="c14"/><text x="30" y="38.3">222</text></g>
<g id="n218" class="n" transform="translate(2010,1141.6)"><circle r="17.9" class="c13"/><text x="30" y="38.3">218</text></g>
<g id="n217" class="n" transform="translate(2059,1141.6)"><circle r="17.9" class="c13"/><text x="30" y="38.3">217</text></g>
<g id="n209" class="n" transform="translate(1664,1230.4)"><circle r="17.9" class="c14"/><text x="30" y="38.3">209</text></g>
<g id="n212" class="n" transform="translate(2059,1230.4)"><circle r="17.9" class="c14"/><text x="30" y="38.3">212</text></g>
<g id="n407" class="n" transform="translate(808,1305)"><circle r="17.9" class="c14"/><text x="30" y="38.3">407</text></g>
<g id="n376" class="n" transform="translate(783,1394.5)"><circle r="17.9" class="c14"/><text x="30" y="38.3">376</text></g>
<g id="n365" class="n" transform="translate(832,1394.5)"><circle r="17.9" class="c14"/><text x="30" y="38.3">365</text></g>
<g id="n352" class="n" transform="translate(832,1483)"><circle r="17.9" class="c14"/><text x="30" y="38.3">352</text></g>
<g id="n325" class="n" transform="translate(832,1572)"><circle r="17.9" class="c14"/><text x="30" y="38.3">325</text></g>
<g id="n309" class="n" transform="translate(832,1660.5)"><circle r="17.9" class="c14"/><text x="30" y="38.3">309</text></g>
<g id="n295" class="n" transform="translate(832,1749.7)"><circle r="17.9" class="c14"/><text x="30" y="38.3">295</text></g>
<g id="n282" class="n" transform="translate(832,1838.5)"><circle r="17.9" class="c14"/><text x="30" y="38.3">282</text></g>
<g id="n304" class="n" transform="translate(907,1305)"><circle r="5.1" class="c14" style="stroke-width:3"/><text x="17" y="24.6">304</text></g>
<g id="n285" class="n" transform="translate(907,1394.5)"><circle r="5.1" class="c14" style="stroke-width:3"/><text x="17" y="24.3">285</text></g>
<g id="n281" class="n" transform="translate(981,1305)"><circle r="3.5" class="c14" style="stroke-width:2.4"/><text x="14.7" y="22">281</text></g>
<g id="n253" class="n" transform="translate(981,1394.5)"><circle r="3.5" class="c14" style="stroke-width:2.4"/><text x="14.7" y="22">253</text></g>
</g>
</svg>
